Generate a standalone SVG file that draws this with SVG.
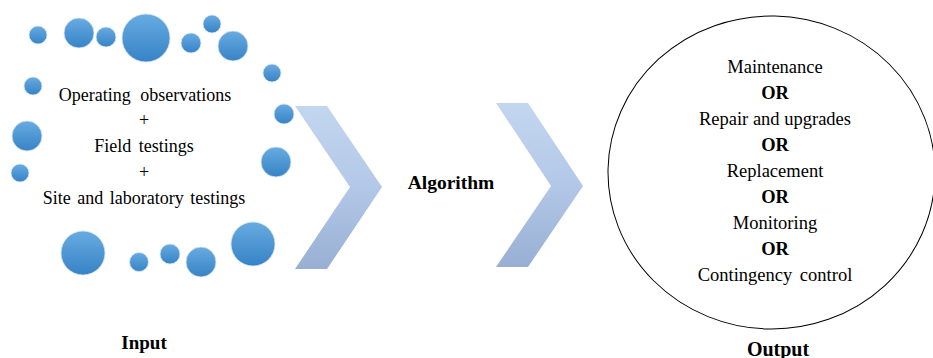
<svg xmlns="http://www.w3.org/2000/svg" width="933" height="358" viewBox="0 0 933 358">
<defs>
<linearGradient id="bub" x1="0" y1="0" x2="0" y2="1">
<stop offset="0" stop-color="#68abe1"/>
<stop offset="1" stop-color="#3683c6"/>
</linearGradient>
<linearGradient id="chev" x1="0" y1="0" x2="0" y2="1">
<stop offset="0" stop-color="#c3d6ef"/>
<stop offset="0.5" stop-color="#b3c8e8"/>
<stop offset="1" stop-color="#98afd3"/>
</linearGradient>
<style>
.b{fill:url(#bub);stroke:#d6e4f2;stroke-width:0.8}
.t{font-family:"Liberation Serif","Times New Roman",serif;font-size:18px;fill:#000;text-anchor:middle}
.o{font-size:18.5px}
.bold{font-weight:bold}
.ch{fill:url(#chev)}
</style>
</defs>
<rect width="933" height="358" fill="#fff"/>
<g id="input">
<circle class="b" cx="38" cy="35" r="9"/>
<circle class="b" cx="79" cy="33" r="15"/>
<circle class="b" cx="106" cy="37" r="10"/>
<circle class="b" cx="146" cy="38" r="24"/>
<circle class="b" cx="191" cy="43" r="10"/>
<circle class="b" cx="212" cy="24" r="9"/>
<circle class="b" cx="233" cy="46" r="15"/>
<circle class="b" cx="272" cy="73" r="9"/>
<circle class="b" cx="33" cy="86" r="9"/>
<circle class="b" cx="284" cy="114" r="10"/>
<circle class="b" cx="27" cy="136" r="15"/>
<circle class="b" cx="276" cy="162" r="15"/>
<circle class="b" cx="20" cy="173" r="9"/>
<circle class="b" cx="83" cy="253" r="22"/>
<circle class="b" cx="139" cy="262" r="9.5"/>
<circle class="b" cx="170" cy="254" r="10"/>
<circle class="b" cx="201" cy="262" r="15"/>
<circle class="b" cx="253" cy="244" r="22"/>
<text class="t" x="145" y="101" word-spacing="5">Operating observations</text>
<text class="t" x="144" y="126">+</text>
<text class="t" x="144" y="152" word-spacing="3">Field testings</text>
<text class="t" x="144" y="178">+</text>
<text class="t" x="144" y="204" word-spacing="2">Site and laboratory testings</text>
<text class="t bold" x="144" y="349" style="font-size:19px">Input</text>
</g>
<g id="connectors">
<polygon class="ch" points="295,106 327,106 382,187 327,269 295,269 350,187"/>
<polygon class="ch" points="496,103 528,103 583,186 528,267 496,267 551,186"/>
</g>
<g id="algorithm">
<text class="t bold" x="451" y="189" style="font-size:19.5px">Algorithm</text>
</g>
<g id="output">
<ellipse cx="771.5" cy="172.5" rx="163.5" ry="156.5" fill="none" stroke="#000" stroke-width="1" transform="rotate(1.3 771.5 172.5)"/>
<text class="t o" x="775" y="73">Maintenance</text>
<text class="t o bold" x="775" y="99">OR</text>
<text class="t o" x="775" y="125">Repair and upgrades</text>
<text class="t o bold" x="775" y="151">OR</text>
<text class="t o" x="775" y="177">Replacement</text>
<text class="t o bold" x="775" y="203">OR</text>
<text class="t o" x="775" y="229">Monitoring</text>
<text class="t o bold" x="775" y="255">OR</text>
<text class="t o" x="775" y="281" word-spacing="3">Contingency control</text>
<text class="t bold" x="778" y="356" style="font-size:20px">Output</text>
</g>
</svg>
